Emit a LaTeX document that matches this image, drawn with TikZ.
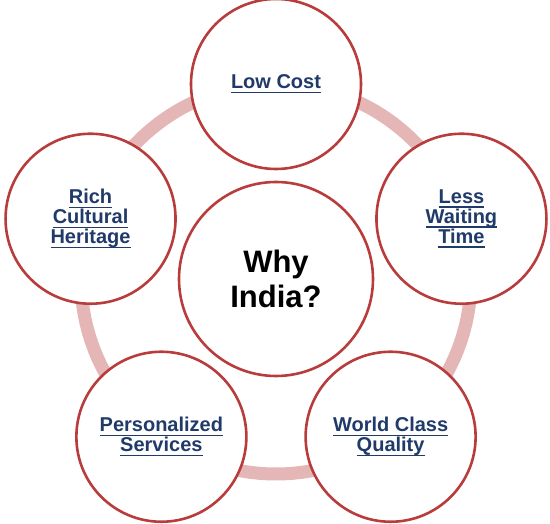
\documentclass[tikz,border=0pt]{standalone}
\usepackage{fontspec}
\setmainfont{Liberation Sans}
\definecolor{rimc}{RGB}{185,60,60}
\definecolor{ringc}{RGB}{228,182,181}
\definecolor{linkc}{RGB}{32,58,106}
\newcommand\lnk[1]{\setbox0\hbox{#1}\leavevmode\rlap{\rule[-4.5pt]{\wd0}{1.5pt}}\box0}

\begin{document}
\begin{tikzpicture}[x=1pt,y=1pt,
  hub/.style={circle,draw=rimc,line width=2.6pt,fill=white,minimum size=194pt,inner sep=0pt,align=center,font=\fontsize{31}{35}\selectfont\bfseries},
  reason/.style={circle,draw=rimc,line width=2.6pt,fill=white,minimum size=170pt,inner sep=0pt,align=center,text=linkc,font=\fontsize{20}{20}\selectfont\bfseries}]
\useasboundingbox (0,0) rectangle (550,524);
\node[hub] (india) at (276,245) {Why\\India?};
% pale ring behind the outer circles
\draw[ringc,line width=13pt] (india) circle (195);
\foreach \ang/\name/\txt in {90/cost/{\lnk{Low Cost}},
    18/wait/{\lnk{Less}\\\lnk{Waiting}\\\lnk{Time}},
    -54/quality/{\lnk{World Class}\\\lnk{Quality}},
    -126/care/{\lnk{Personalized}\\\lnk{Services}},
    162/culture/{\lnk{Rich}\\\lnk{Cultural}\\\lnk{Heritage}}}
  \node[reason] (\name) at ([shift={(\ang:195)}]india) {\txt};
\end{tikzpicture}
\end{document}
